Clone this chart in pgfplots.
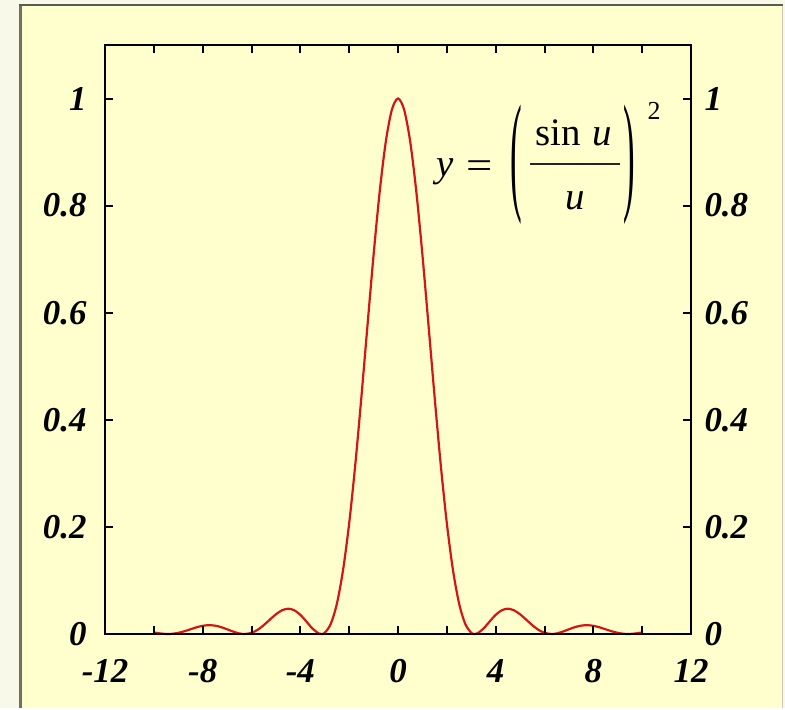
\documentclass[border=0pt]{standalone}
\usepackage{pgfplots}
\pgfplotsset{compat=1.18}
\usepackage{graphicx}
\usepackage{fontspec}
\setmainfont{Liberation Serif}

\definecolor{pagebg}{RGB}{249,249,234}
\definecolor{panelbg}{RGB}{255,255,206}
\definecolor{frameDark}{RGB}{112,112,100}
\definecolor{frameLight}{RGB}{200,200,186}
\definecolor{curvered}{RGB}{210,22,22}

\newcommand{\ticklabelfont}{\fontsize{35}{35}\selectfont\bfseries\itshape}
\newcommand{\eqfont}{\fontsize{39}{39}\selectfont}

\begin{document}
\begin{tikzpicture}[x=1bp,y=1bp]
  % page and framed panel
  \fill[pagebg] (0,0) rectangle (785,708);
  \fill[panelbg] (19,0) rectangle (783,702);
  \draw[frameDark, line width=3bp] (20.5,0) -- (20.5,702);
  \draw[frameDark!80!black, line width=2bp] (19,702.5) -- (783,702.5);
  \draw[frameLight, line width=1.5bp] (782.5,0) -- (782.5,702);

  \pgfplotsset{
    sincaxis/.style={
      scale only axis,
      width=586bp, height=589bp,
      at={(105bp,74bp)}, anchor=south west,
      xmin=-12, xmax=12, ymin=0, ymax=1.1,
      axis line style={line width=2.5bp, black},
      every tick/.style={line width=2bp, black},
      major tick length=8bp, minor tick length=8bp,
      tick align=inside,
      xtick={-12,-8,-4,0,4,8,12},
      minor xtick={-10,-6,-2,2,6,10},
      ytick={0,0.2,0.4,0.6,0.8,1},
      yticklabels={0,0.2,0.4,0.6,0.8,1},
      xticklabels={-12,-8,-4,0,4,8,12},
      tick label style={font=\ticklabelfont},
      xticklabel style={yshift=-22bp},
      xtick pos=both,
      ytick pos=both,
      clip=false,
    }
  }

  \begin{axis}[sincaxis, yticklabel pos=left,
      yticklabel style={xshift=-15bp}]
    \addplot[curvered, line width=2.2bp, smooth, tension=0.5] coordinates {
      (-10,0.00296) (-9.75,0.00107) (-9.5,0.00006) (-9.4248,0) (-9.25,0.00035)
      (-9,0.00210) (-8.75,0.00510) (-8.5,0.00883) (-8.25,0.01251) (-8,0.01529)
      (-7.75,0.01647) (-7.5,0.01564) (-7.25,0.01289) (-7,0.00881) (-6.75,0.00445)
      (-6.5,0.00110) (-6.2832,0) (-6,0.00217) (-5.75,0.00781) (-5.5,0.01646)
      (-5.25,0.02677) (-5,0.03678) (-4.75,0.04426) (-4.5,0.04719) (-4.25,0.04435)
      (-4,0.03580) (-3.75,0.02323) (-3.5,0.01005) (-3.25,0.00111) (-3.1416,0)
      (-3,0.00221) (-2.75,0.01926) (-2.5,0.05731) (-2.25,0.11959) (-2,0.20671)
      (-1.75,0.31616) (-1.5,0.44222) (-1.25,0.57637) (-1,0.70807) (-0.75,0.82601)
      (-0.5,0.91940) (-0.25,0.97934) (0,1)
      (0.25,0.97934) (0.5,0.91940) (0.75,0.82601) (1,0.70807) (1.25,0.57637)
      (1.5,0.44222) (1.75,0.31616) (2,0.20671) (2.25,0.11959) (2.5,0.05731)
      (2.75,0.01926) (3,0.00221) (3.1416,0) (3.25,0.00111) (3.5,0.01005)
      (3.75,0.02323) (4,0.03580) (4.25,0.04435) (4.5,0.04719) (4.75,0.04426)
      (5,0.03678) (5.25,0.02677) (5.5,0.01646) (5.75,0.00781) (6,0.00217)
      (6.2832,0) (6.5,0.00110) (6.75,0.00445) (7,0.00881) (7.25,0.01289)
      (7.5,0.01564) (7.75,0.01647) (8,0.01529) (8.25,0.01251) (8.5,0.00883)
      (8.75,0.00510) (9,0.00210) (9.25,0.00035) (9.4248,0) (9.5,0.00006)
      (9.75,0.00107) (10,0.00296)
    };
  \end{axis}

  % right-hand tick labels
  \begin{axis}[sincaxis, yticklabel pos=right,
      yticklabel style={xshift=10bp},
      xticklabels={}]
  \end{axis}

  % the formula y = (sin u / u)^2
  \node[anchor=base west, inner sep=0pt, font=\eqfont\itshape] at (436,531) {y};
  \node[anchor=base, inner sep=0pt, font=\eqfont] at (480,529.5) {\scalebox{1.2}[1]{=}};
  \node[anchor=center, inner sep=0pt, font=\eqfont] at (516,543) {\scalebox{0.9}[3.4]{(}};
  \node[anchor=base, inner sep=0pt, font=\eqfont] at (574,562) {sin\hspace{0.3em}\itshape u};
  \draw[black!85, line width=1.3bp] (530,544) -- (620,544);
  \node[anchor=base, inner sep=0pt, font=\eqfont\itshape] at (575,498) {u};
  \node[anchor=center, inner sep=0pt, font=\eqfont] at (629,543) {\scalebox{0.9}[3.4]{)}};
  \node[anchor=base, inner sep=0pt, font=\fontsize{26}{26}\selectfont] at (654,588) {2};
\end{tikzpicture}
\end{document}
